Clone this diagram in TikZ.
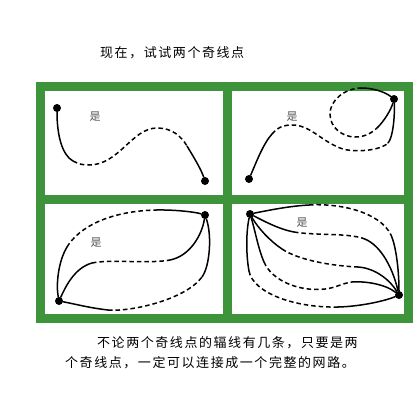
\documentclass[tikz,border=0pt]{standalone}
\usepackage{fontspec}
\newfontfamily\cjk[LetterSpace=12]{Noto Sans CJK SC}
\definecolor{framegreen}{RGB}{62,148,58}
\definecolor{lbl}{RGB}{85,85,85}
\begin{document}
\begin{tikzpicture}[x=1pt,y=-1pt,
  solidln/.style={line width=1.5pt, line cap=round},
  dashln/.style={line width=1.5pt, dash pattern=on 4.5pt off 3pt},
  blackdot/.style={circle, fill=black, inner sep=0pt, minimum size=8pt},
  panel/.style={fill=white},
  yes/.style={font=\cjk\fontsize{11}{11}\selectfont, text=lbl, inner sep=0pt},
  txt/.style={font=\cjk\fontsize{13}{13}\selectfont, anchor=west, inner sep=0pt}]
\useasboundingbox (0,0) rectangle (420,400);
\fill[white] (0,0) rectangle (420,400);
% frame
\fill[framegreen] (36,82) rectangle (413,323);
\fill[panel] (45,91) rectangle (223,195);
\fill[panel] (232,91) rectangle (404,195);
\fill[panel] (45,204) rectangle (223,314);
\fill[panel] (232,204) rectangle (404,314);
% texts
\node[txt] (title) at (100,53) {现在，试试两个奇线点};
\node[txt] (line1) at (97,343) {不论两个奇线点的辐线有几条，只要是两};
\node[txt] (line2) at (65,363) {个奇线点，一定可以连接成一个完整的网路。};
\node[yes] (y1) at (95,117) {是};
\node[yes] (y2) at (292,117) {是};
\node[yes] (y3) at (96,243) {是};
\node[yes] (y4) at (302,223) {是};
% dots
\node[blackdot] (A) at (57,108) {};
\node[blackdot] (B) at (205,181) {};
\node[blackdot] (C) at (249,179) {};
\node[blackdot] (D) at (394,99) {};
\node[blackdot] (E) at (59,301) {};
\node[blackdot] (F) at (205,215) {};
\node[blackdot] (G) at (250,214) {};
\node[blackdot] (H) at (399,295) {};
% TL
\draw[solidln] (A) .. controls (57,135) and (62,155) .. (73,161);
\draw[dashln] (73,161) .. controls (79,164.3) and (83,165) .. (89,165) .. controls (119,165) and (132,128) .. (157,128) .. controls (172,128) and (181,136) .. (187,146);
\draw[solidln] (187,146) .. controls (193,156) and (201,169) .. (B);
% TR long
\draw[solidln] (C) .. controls (256,163) and (263,144) .. (272,134);
\draw[dashln] (272,134) .. controls (279,126) and (285,125) .. (292,125) .. controls (310,125) and (320,140) .. (340,148) .. controls (352,153) and (380,151) .. (388,143);
\draw[solidln] (388,143) .. controls (393,138) and (395,115) .. (D);
% TR loop
\draw[solidln] (D) .. controls (385,92) and (373,88) .. (362,88);
\draw[dashln] (362,88) .. controls (345,88) and (330,100) .. (330,114) .. controls (330,128) and (343,137) .. (355,137) .. controls (365,137) and (372,133) .. (378,127);
\draw[solidln] (378,127) .. controls (384,121) and (391,110) .. (D);
% BL outer
\draw[solidln] (E) .. controls (56,285) and (58,262) .. (67,247);
\draw[dashln] (67,247) .. controls (79,227) and (110,211) .. (156,210);
\draw[solidln] (156,210) .. controls (175,209.6) and (195,212) .. (F);
% BL middle
\draw[solidln] (E) .. controls (65,288) and (74,268) .. (92,263);
\draw[dashln] (92,263) .. controls (110,259) and (150,264) .. (170,260);
\draw[solidln] (170,260) .. controls (190,256) and (202,235) .. (F);
% BL bottom
\draw[solidln] (E) .. controls (75,304) and (90,308) .. (108,310);
\draw[dashln] (108,310) .. controls (130,312) and (185,300) .. (202,277);
\draw[solidln] (202,277) .. controls (210,266) and (212,235) .. (F);
% BR 1
\draw[solidln] (G) .. controls (270,210) and (290,206) .. (309,205);
\draw[dashln] (309,205) .. controls (340,203) and (380,212) .. (391,235);
\draw[solidln] (391,235) .. controls (396,246) and (399,270) .. (H);
% BR 2
\draw[solidln] (G) .. controls (262,220) and (278,229) .. (294,232);
\draw[dashln] (294,232) .. controls (315,235.5) and (345,233) .. (362,238);
\draw[solidln] (362,238) .. controls (379,243) and (392,265) .. (H);
% BR 3
\draw[solidln] (G) .. controls (258,228) and (270,241) .. (282,249);
\draw[dashln] (282,249) .. controls (300,261) and (335,266) .. (358,267);
\draw[solidln] (358,267) .. controls (375,268) and (390,280) .. (H);
% BR 4
\draw[solidln] (G) .. controls (255,230) and (258,248) .. (264,262);
\draw[dashln] (264,262) .. controls (272,281) and (300,292) .. (325,289) .. controls (335,288) and (343,283) .. (352,282);
\draw[solidln] (352,282) .. controls (365,281) and (385,284) .. (H);
% BR 5
\draw[solidln] (G) .. controls (246,232) and (246,255) .. (249,271);
\draw[dashln] (249,271) .. controls (253,293) and (295,308) .. (338,307);
\draw[solidln] (338,307) .. controls (360,306.5) and (385,301) .. (H);
\end{tikzpicture}
\end{document}
